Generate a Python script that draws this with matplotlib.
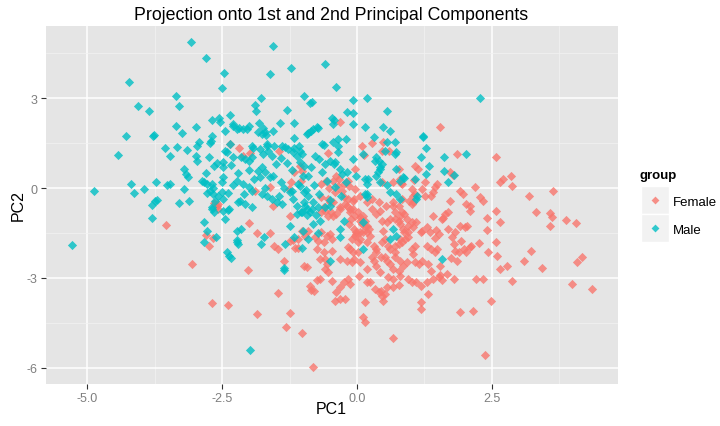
import numpy as np
import matplotlib
matplotlib.use("Agg")
import matplotlib.pyplot as plt
from matplotlib.patches import Rectangle

plt.rcParams['font.family'] = ['Liberation Sans', 'DejaVu Sans']

# PC scores, (PC1, PC2)
male_pts = [
    (-3.07, 4.86), (-2.80, 4.33), (-2.47, 3.83), (-2.51, 3.32), (-4.22, 3.53), (-3.35, 3.07),
    (-3.29, 2.72), (-4.06, 2.72), (-3.86, 2.57), (-3.36, 2.08), (-3.24, 1.82), (-2.99, 2.04),
    (-4.28, 1.74), (-3.78, 1.74), (-3.76, 1.76), (-4.43, 1.11), (-3.55, 1.32), (-3.34, 1.36),
    (-3.46, 1.06), (-3.15, 1.28), (-2.92, 1.52), (-2.96, 1.39), (-2.98, 1.08), (-2.96, 0.91),
    (-2.69, 2.27), (-2.56, 2.32), (-2.53, 2.21), (-2.35, 2.42), (-2.29, 2.13), (-2.44, 1.90),
    (-2.22, 1.97), (-2.68, 1.72), (-2.70, 1.58), (-2.72, 1.49), (-2.41, 1.21), (-2.35, 1.48),
    (-2.30, 1.04), (-2.75, 1.02), (-2.64, 0.74), (-2.60, 0.82), (-2.48, 0.86), (-2.33, 0.78),
    (-2.49, 0.69), (-2.49, 0.38), (-2.80, 0.50), (-3.20, 0.63), (-3.17, 0.46), (-3.13, 0.36),
    (-2.83, 0.20), (-2.68, 0.13), (-2.66, -0.01), (-4.19, 0.12), (-4.88, -0.10), (-4.14, -0.18),
    (-3.95, -0.02), (-3.72, 0.20), (-3.52, 0.10), (-3.46, 0.13), (-3.20, -0.02), (-2.77, -0.17),
    (-2.51, -0.14), (-2.39, -0.17), (-2.20, -0.48), (-3.74, -0.43), (-3.70, -0.39), (-3.80, -0.56),
    (-3.29, -0.51), (-3.12, -0.42), (-2.69, -0.64), (-3.80, -1.00), (-2.83, -1.12), (-2.77, -1.42),
    (-2.83, -1.81), (-2.61, -1.62), (-2.68, -0.70), (-2.65, -0.81), (-2.39, -0.73), (-2.44, -1.03),
    (-2.22, -1.42), (-2.23, -1.81), (-2.41, -2.14), (-2.38, -2.26), (-2.33, -2.34), (-5.28, -1.89),
    (-2.15, -1.37), (-2.23, -1.73), (-2.20, -1.87), (-1.99, -5.39), (-1.73, -1.64), (-1.78, -1.87),
    (-1.36, -2.68), (-1.35, -2.72), (-1.24, -1.28), (-1.33, -1.87), (-1.02, -2.01), (-0.90, -1.70),
    (-0.72, -1.50), (-0.69, -1.09), (-0.76, -0.90), (-0.92, -0.90), (-0.87, -0.79), (-1.12, -0.87),
    (-1.04, -0.81),
    (-1.56, 4.72), (-1.61, 3.80), (-1.23, 4.00), (-0.59, 4.13), (-0.39, 3.36), (-1.78, 2.99),
    (-1.89, 2.77), (-1.87, 2.58), (-1.30, 2.60), (-0.98, 3.08), (-0.87, 2.83), (-0.83, 2.88),
    (-0.08, 2.93), (0.19, 2.99), (0.55, 2.56), (-0.19, 2.52), (-0.07, 2.50), (-0.46, 2.32),
    (-0.43, 2.28), (-0.07, 2.13), (0.14, 2.04), (0.48, 2.04), (0.61, 1.91), (0.31, 1.69),
    (0.55, 1.52), (0.52, 1.22), (-2.19, 1.99), (-2.04, 1.97), (-1.81, 2.17), (-1.75, 2.00),
    (-1.70, 1.88), (-1.69, 1.77), (-1.55, 1.91), (-1.43, 2.17), (-1.16, 2.17), (-0.90, 1.83),
    (-0.86, 1.91), (-0.81, 1.97), (-0.75, 2.02), (-0.72, 1.99), (-1.17, 1.66), (-1.66, 1.39),
    (-1.54, 1.41), (-1.95, 1.41), (-1.92, 1.33), (-1.39, 1.41), (-1.33, 1.36), (-1.27, 1.30),
    (-1.07, 1.39), (-1.06, 1.24), (-1.16, 1.32), (-0.62, 1.43), (-0.36, 1.63), (-0.21, 1.63),
    (-0.36, 1.41), (-0.78, 1.06), (-0.71, 0.97), (-0.43, 0.80), (-0.07, 0.97), (0.36, 1.02),
    (0.41, 0.91), (0.46, 0.80), (0.43, 0.63), (0.39, 0.52), (0.73, 0.63), (0.73, -0.20),
    (-0.01, 0.41), (-0.19, 0.52),
    (-2.29, 2.08), (-2.11, 1.97), (-2.01, 2.06), (-1.83, 1.86), (-1.76, 1.80), (-0.93, 1.80),
    (-2.44, 1.24), (-2.14, 1.02), (-2.07, 0.97), (-2.01, 0.91), (-1.95, 1.02), (-1.80, 1.30),
    (-1.74, 1.13), (-1.64, 1.24), (-1.58, 1.08), (-1.67, 1.47), (-1.18, 1.19), (-1.12, 1.08),
    (-1.06, 0.86), (-1.76, 0.69), (-1.70, 0.52), (-1.61, 0.36), (-1.55, 0.41), (-1.83, 0.58),
    (-1.80, 0.36), (-2.88, 0.24), (-2.78, 0.13), (-2.72, -0.09), (-2.66, -0.20), (-2.57, -0.26),
    (-2.48, -0.37), (-2.51, 0.19), (-2.23, 0.24), (-2.11, 0.13), (-2.01, 0.02), (-1.95, -0.09),
    (-1.76, -0.20), (-1.67, -0.26), (-1.58, -0.37), (-1.49, -0.48), (-1.39, -0.53), (-2.17, -0.42),
    (-2.07, -0.53), (-1.95, -0.64), (-2.63, -0.42), (-2.48, -0.76), (-2.38, -0.70), (-1.24, -0.14),
    (-1.18, -0.37), (-1.12, -0.59), (-0.99, -0.48), (-0.93, -0.70),
    (-1.30, 0.85), (-1.20, 0.60), (-1.40, 0.20), (-1.00, 0.40), (-0.85, 0.70), (-0.65, 0.55),
    (-0.55, 0.25), (-0.80, 0.10), (-0.95, -0.05), (-0.70, -0.20), (-0.50, -0.40), (-0.60, -0.65),
    (-1.35, 0.00), (-1.45, -0.25), (-0.40, 0.05), (-0.30, -0.25), (-1.10, 0.15), (-0.20, 0.20),
    (-2.00, 0.60), (-2.20, 0.50), (-1.90, 0.30), (-2.30, 0.10), (-1.50, 0.80), (-1.40, 1.00),
    (-0.60, 0.80), (-1.20, -0.10), (-1.70, 0.00), (-2.10, -0.20),
    (-0.44, 2.13), (-0.44, 1.52), (-0.35, 1.19), (-0.65, 1.47), (-0.50, 0.91), (-0.41, 0.86),
    (-0.31, 0.63), (-0.28, 0.47), (-0.90, 0.41), (-0.99, 0.74), (-1.02, 1.13), (0.12, 1.13),
    (0.33, 0.91), (0.43, 0.69), (0.36, 0.41), (0.43, 0.19), (0.15, 0.30), (0.21, 0.30),
    (0.70, 1.52), (0.73, 1.19), (1.07, 0.30), (0.86, 0.36), (0.61, -0.14), (1.10, -0.37),
    (0.15, -0.20), (0.18, -0.31), (-1.06, 0.08), (-0.99, -0.14), (-0.90, -0.26), (-0.81, -0.48),
    (-0.96, -0.59), (-0.84, -0.70), (-0.72, -0.64), (-0.50, -0.59),
    (-1.02, -0.81), (-0.81, -1.20), (-0.25, -1.09), (0.12, -1.12), (-0.31, -1.64), (0.12, -2.03),
    (-0.50, -2.42), (0.67, -1.37), (0.61, -1.70), (0.73, -1.59), (1.57, -2.37), (0.80, -0.37),
    (2.28, 2.99), (0.70, 1.13), (1.23, 1.74), (1.23, 1.70), (1.28, 1.32), (1.18, 1.02),
    (1.61, 1.02), (2.02, 1.13), (1.61, 0.58), (1.28, 0.47), (1.80, 0.44), (1.69, 0.19),
    (0.87, 0.33), (0.55, 0.09), (1.12, -0.26),
    (-1.17, -1.64), (-1.00, -1.42), (-0.32, -1.37), (0.19, 0.13), (0.19, -0.20), (0.79, 0.24),
    (1.34, 0.74),
]

female_pts = [
    (-2.19, 1.33), (-3.53, -1.24), (-2.80, -1.57), (-2.74, -1.94), (-2.67, -1.68), (-3.06, -2.52),
    (-2.68, -3.84), (-2.39, -3.89), (-2.57, -0.53), (-2.01, -1.17), (-2.02, -2.72), (-1.86, -4.20),
    (-1.85, -1.50), (-1.61, -1.50), (-1.54, -1.92), (-1.47, -2.03), (-1.47, -3.51), (-1.35, -2.42),
    (-1.31, -4.64), (-1.24, -4.17), (-1.25, -1.78), (-1.19, -1.72), (-1.10, -1.70), (-1.09, -2.01),
    (-1.15, -2.01), (-1.02, -4.83), (-0.93, -2.64), (-0.81, -5.98), (-0.85, -3.39), (-0.80, -3.42),
    (-0.74, -3.07), (-0.78, -1.64), (-0.72, -1.76),
    (-0.31, 2.21), (-2.35, 1.47), (-1.44, 1.22), (-0.54, 1.17), (0.10, 1.41), (0.27, 1.50),
    (0.49, 1.54), (0.13, 1.10), (0.60, 1.24), (0.67, 0.19), (-0.38, 0.41), (-0.33, 0.30),
    (-0.51, 0.00), (-0.25, 0.13), (-0.16, 0.24), (-0.41, -0.14), (-0.24, -0.31), (-0.16, -0.37),
    (-0.07, -0.42), (-1.23, 0.19), (-1.26, -0.03), (-1.06, 0.74), (-1.02, 0.58), (-1.04, 0.24),
    (-1.61, 0.02), (-1.89, -0.09), (-2.60, -0.59), (-1.99, 1.17),
    (1.54, 2.04), (1.85, 1.13), (2.57, 1.02), (0.46, 1.24), (0.78, 0.63), (1.06, 0.28),
    (1.26, 0.19), (0.81, 0.17), (0.46, 0.19), (1.72, 0.52), (1.77, 0.44), (1.48, 0.13),
    (1.44, 0.02), (1.41, -0.14), (1.38, -0.26), (1.91, -0.09), (1.97, -0.20), (2.19, 0.02),
    (2.28, -0.31), (2.34, -0.42), (2.65, 0.19), (2.70, 0.30), (2.85, 0.39), (2.88, 0.08),
    (3.19, -0.26), (3.64, -0.09), (1.26, -0.26), (1.04, -0.48), (1.72, -0.42), (0.67, -0.48),
    (0.77, -0.59), (1.01, -0.53), (2.02, -0.53), (2.09, -0.59),
    (2.09, -0.76), (2.57, -0.76), (2.65, -1.12), (2.40, -1.00), (2.41, -1.39), (3.31, -0.79),
    (3.57, -0.83), (3.62, -0.98), (3.57, -1.28), (3.88, -1.06), (4.06, -1.17), (1.41, -0.94),
    (1.63, -0.87), (1.69, -0.81), (1.57, -1.03), (1.60, -1.00), (1.91, -1.26), (2.00, -1.31),
    (2.04, -1.28), (1.18, -1.46), (1.35, -1.46), (1.46, -1.39), (1.51, -1.53), (1.44, -1.68),
    (1.01, -1.14), (1.04, -1.31), (0.95, -1.26), (0.92, -1.03), (0.87, -0.87), (0.83, -0.81),
    (0.55, -1.12), (0.77, -1.09), (0.49, -1.42), (0.52, -1.70), (0.46, -1.81), (0.77, -1.87),
    (0.83, -1.79), (0.89, -1.70), (0.95, -1.64), (1.92, -1.76), (1.80, -1.87), (1.81, -2.09),
    (1.74, -2.34), (2.12, -1.92), (2.26, -1.83), (2.57, -1.79), (2.43, -2.14), (2.60, -2.28),
    (2.65, -2.70), (2.77, -2.59), (2.88, -3.09), (3.09, -2.42), (3.22, -2.09), (3.43, -2.67),
    (4.07, -2.48), (4.16, -2.31), (3.99, -3.21), (4.35, -3.38), (1.04, -2.20), (1.07, -2.48),
    (1.14, -2.53), (1.20, -2.42), (1.29, -1.92), (1.32, -2.53), (1.38, -2.76), (1.44, -2.14),
    (1.48, -2.03), (1.54, -2.90), (1.57, -3.06), (1.51, -2.98), (1.80, -3.03), (2.20, -3.03),
    (2.33, -3.03), (1.31, -3.53), (1.18, -3.81), (1.18, -4.03), (1.91, -4.14), (2.14, -4.11),
    (2.48, -3.76), (0.66, -5.00), (2.37, -5.56), (1.01, -3.12), (1.18, -3.26), (0.77, -3.23),
    (0.66, -3.03), (0.49, -3.76), (0.46, -3.59), (0.44, -3.42), (0.56, -2.42), (0.52, -2.31),
    (0.67, -2.70), (0.77, -2.76), (0.61, -2.53), (0.70, -2.31), (0.80, -2.42), (0.86, -2.59),
    (1.07, -1.92), (1.01, -2.03),
    (-0.50, -1.53), (-0.38, -0.87), (-0.31, -0.70), (-0.22, -0.53), (-0.13, -0.81), (-0.04, -0.92),
    (0.06, -1.09), (0.15, -1.26), (0.18, -1.48), (0.24, -1.59), (-0.01, -1.48), (-0.10, -1.70),
    (-0.16, -1.98), (-0.07, -2.14), (0.06, -2.48), (0.18, -2.70), (0.27, -2.31), (0.36, -2.03),
    (0.43, -2.81), (0.58, -2.98), (0.67, -3.31), (0.52, -3.53), (0.33, -3.37), (0.18, -3.14),
    (0.15, -3.81), (0.12, -4.31), (0.15, -4.48), (0.04, -2.92), (-0.16, -3.03), (-0.25, -3.14),
    (-0.31, -3.31), (-0.38, -3.48), (-0.31, -3.70), (-0.22, -3.70), (-0.47, -3.09), (-0.56, -2.53),
    (-0.59, -2.70), (-0.53, -2.81), (-0.69, -2.37),
    (-0.44, -0.48), (-0.19, -0.59), (-0.07, -0.70), (0.06, -0.98), (0.09, -1.20), (0.06, -1.48),
    (0.02, -1.81), (-0.04, -1.59), (-0.13, -2.03), (0.36, -0.87), (0.46, -1.09), (0.70, -1.03),
    (0.80, -1.20), (0.86, -1.37), (0.95, -1.48), (1.10, -1.14), (1.20, -1.42), (1.29, -1.31),
    (0.61, -2.03), (0.70, -2.14), (0.92, -2.48), (1.38, -2.03), (1.54, -2.59), (1.66, -2.87),
    (1.41, -3.03), (1.29, -3.14), (1.10, -3.14), (0.95, -3.03), (0.80, -2.92), (0.55, -3.31),
    (0.40, -3.48), (0.24, -3.14), (-0.13, -3.20), (-0.69, -3.03), (-0.87, -3.26), (-0.59, -2.37),
    (-0.31, -2.37), (-0.10, -2.48), (-1.02, -1.42), (-0.96, -1.59), (-0.90, -1.42), (-0.56, -1.59),
    (-0.47, -1.70), (-0.75, -2.03), (-0.62, -2.14), (-0.47, -2.09),
    (-0.04, 0.63), (0.80, 0.30), (0.83, 0.13), (1.01, -0.03), (1.07, -0.20), (-0.44, 0.24),
    (-0.35, 0.08), (-0.28, -0.09), (-0.04, -0.03), (0.06, -0.26), (0.18, -0.48), (0.27, -0.70),
    (0.43, -0.76), (-0.13, -0.70), (-0.31, -0.64), (-0.50, -0.48), (-0.59, -0.76), (-0.44, -0.92),
    (2.02, -2.14), (2.10, -1.98), (1.68, -1.37), (1.81, -1.48), (1.76, -1.64), (1.89, -2.14),
    (1.98, -2.03), (1.85, -2.42), (-0.41, -3.76), (-0.99, -2.59), (-1.17, 0.52), (-0.66, -0.31),
    (-0.53, -0.37), (-0.62, -0.64), (-0.49, -0.81), (-0.66, -0.81), (-0.53, -0.92), (-0.66, -1.48),
    (-0.62, -1.81), (0.02, -0.81), (0.11, -0.92), (0.15, -1.09), (0.19, -1.26), (0.23, -1.37),
    (0.11, -1.48), (-0.06, -1.37), (-0.15, -1.20), (-0.11, -1.03), (-0.02, -1.53), (0.06, -1.70),
    (0.19, -1.81), (0.32, -1.92), (0.36, -2.14), (0.44, -2.31), (0.32, -2.42), (0.36, -2.59),
    (0.02, -2.14), (-0.06, -2.37), (-0.19, -2.42), (-0.15, 0.08), (-0.06, -0.37), (0.28, -0.37),
    (0.40, -0.48), (0.53, -0.59), (0.66, -0.59), (0.70, -0.81), (0.62, -1.03), (0.79, -0.92),
    (0.87, -1.48), (0.79, -1.70), (0.70, -1.92), (0.57, -1.92), (0.83, -0.37), (0.96, -0.42),
    (1.04, -0.26), (1.21, -0.03), (1.08, 0.74), (1.13, 0.63), (-0.57, 0.24), (-0.66, 0.13),
    (-2.11, 1.08), (-1.55, -0.59), (-2.57, -0.70), (-1.24, -0.92), (-2.65, -0.49),
]

groups = ["Female", "Male"]
colors = {"Female": "#F8766D", "Male": "#00BFC4"}
x_major = [-5.0, -2.5, 0.0, 2.5]
x_labels = ["-5.0", "-2.5", "0.0", "2.5"]
y_major = [-6, -3, 0, 3]
y_labels = ["-6", "-3", "0", "3"]

male = np.array(male_pts)
female = np.array(female_pts)
allpts = np.vstack([male, female])

W, H = 720, 427
fig = plt.figure(figsize=(7.2, 4.27), dpi=100)
fig.patch.set_facecolor("white")

ax = fig.add_axes([46 / W, 1 - 384.6 / H, 571.8 / W, 357.6 / H])
ax.set_facecolor("#E5E5E5")

# ggplot-style 5% expansion of the data range
xmin, xmax = allpts[:, 0].min(), allpts[:, 0].max()
ymin, ymax = allpts[:, 1].min(), allpts[:, 1].max()
dx, dy = 0.05 * (xmax - xmin), 0.05 * (ymax - ymin)
ax.set_xlim(xmin - dx, xmax + dx)
ax.set_ylim(ymin - dy, ymax + dy)

ax.set_xticks(x_major)
ax.set_xticklabels(x_labels)
ax.set_yticks(y_major)
ax.set_yticklabels(y_labels)
ax.set_xticks([-3.75, -1.25, 1.25, 3.75], minor=True)
ax.set_yticks([-4.5, -1.5, 1.5, 4.5], minor=True)
ax.grid(which="major", color="white", linewidth=1.1)
ax.grid(which="minor", color="#F2F2F2", linewidth=0.5)
ax.set_axisbelow(True)
for s in ax.spines.values():
    s.set_visible(False)
ax.tick_params(which="major", length=3.5, width=0.8, color="#333333",
               labelsize=9, labelcolor="#7F7F7F", pad=2.5)
ax.tick_params(which="minor", length=0)

for g, pts in [("Female", female), ("Male", male)]:
    ax.scatter(pts[:, 0], pts[:, 1], marker="D", s=22, color=colors[g],
               alpha=0.8, linewidths=0, zorder=3)

fig.text(331.5 / W, 1 - 15 / H, "Projection onto 1st and 2nd Principal Components",
         ha="center", va="center", fontsize=12.8)
fig.text(331.5 / W, 1 - 410 / H, "PC1", ha="center", va="center", fontsize=11.5)
fig.text(18 / W, 1 - 206 / H, "PC2", ha="center", va="center", fontsize=11.5, rotation=90)

# legend drawn by hand to get the grey key boxes
lax = fig.add_axes([640.7 / W, 1 - 243 / H, 28.3 / W, 56.3 / H])
lax.set_xlim(0, 1)
lax.set_ylim(0, 2)
lax.axis("off")
for i, g in enumerate(groups):
    yc = 1.5 - i
    lax.add_patch(Rectangle((0, yc - 0.5), 1, 1, facecolor="#F2F2F2",
                            edgecolor="white", linewidth=1))
    lax.scatter([0.5], [yc], marker="D", s=16, color=colors[g], alpha=0.8,
                linewidths=0, zorder=3)
    fig.text(673 / W, 1 - (203 + 28.5 * i) / H, g, ha="left", va="center", fontsize=9.5)
fig.text(640 / W, 1 - 176 / H, "group", ha="left", va="center", fontsize=9.5,
         fontweight="bold")

fig.savefig("out.png", dpi=100)
